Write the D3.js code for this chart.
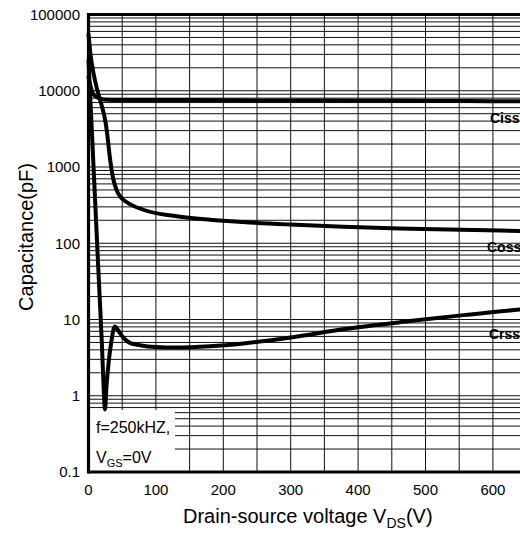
<!DOCTYPE html>
<html><head><meta charset="utf-8">
<script src="https://cdn.jsdelivr.net/npm/d3@7"></script>
<style>html,body{margin:0;padding:0;background:#fff;overflow:hidden}svg{display:block;font-family:"Liberation Sans",Arial,sans-serif}</style>
</head><body>
<svg id="c" width="520" height="536"></svg>
<script>
// Data
const cissV = [0, 3, 6, 10, 16, 25, 50, 100, 200, 300, 400, 500, 600, 700];
const cissC = [15000, 11500, 9400, 8500, 8000, 7600, 7550, 7550, 7500, 7450, 7400, 7350, 7300, 7300];
const cossV = [0, 3, 8, 13, 20, 25, 28, 31, 34, 37, 42, 47, 57, 81, 131, 180, 229, 299, 378, 477, 640, 700];
const cossC = [55000, 30000, 16000, 10200, 6200, 4000, 2600, 1500, 950, 680, 490, 410, 345, 275, 226, 204, 190, 176, 164, 155, 145, 142];
const crssV = [0, 4, 8, 12, 16, 20, 22.5, 24.5, 26.5, 30, 34, 39, 44, 52, 62, 76, 100, 130, 180, 230, 300, 380, 480, 560, 640, 700];
const crssC = [25000, 4500, 800, 140, 25, 4.5, 1.26, 0.66, 1.26, 2.8, 5.2, 8.1, 7.2, 5.75, 4.9, 4.6, 4.35, 4.28, 4.45, 4.85, 5.8, 7.5, 9.6, 11.5, 13.5, 14.8];
const xTicks = [0, 100, 200, 300, 400, 500, 600];
const yTicks = [0.1, 1, 10, 100, 1000, 10000, 100000];
const yTickLabels = ["0.1", "1", "10", "100", "1000", "10000", "100000"];
const seriesNames = ["Ciss", "Coss", "Crss"];

const svg = d3.select("#c");
const x = d3.scaleLinear().domain([0, 700]).range([88.5, 88.5 + 674 * 0.7]);
const y = d3.scaleLog().domain([0.1, 100000]).range([472, 14.5]);

// grid
const g = svg.append("g");
const vGrid = d3.range(50, 701, 50);
g.selectAll("line.v").data(vGrid).enter().append("line")
  .attr("x1", d => x(d)).attr("x2", d => x(d))
  .attr("y1", y(100000)).attr("y2", y(0.1))
  .attr("stroke", "#111").attr("stroke-width", 1);
const hGrid = [];
for (let e = -1; e < 5; e++) for (let m = 1; m <= 9; m++) hGrid.push(m * Math.pow(10, e));
hGrid.push(100000);
g.selectAll("line.h").data(hGrid).enter().append("line")
  .attr("x1", x(0)).attr("x2", 600)
  .attr("y1", d => y(d)).attr("y2", d => y(d))
  .attr("stroke", "#111").attr("stroke-width", 1);

// annotation box background (covers grid)
svg.append("rect").attr("x", x(0) + 1).attr("y", 410).attr("width", 175 - x(0) - 1).attr("height", y(0.1) - 410)
  .attr("fill", "#fff");

// curves
const line = d3.line().x(d => x(d[0])).y(d => y(d[1])).curve(d3.curveMonotoneX);
const series = [d3.zip(cissV, cissC), d3.zip(cossV, cossC), d3.zip(crssV, crssC)];
svg.selectAll("path.s").data(series).enter().append("path")
  .attr("d", line).attr("fill", "none").attr("stroke", "#000").attr("stroke-width", 4)
  .attr("stroke-linejoin", "round").attr("stroke-linecap", "round");

// frame
svg.append("line").attr("x1", x(0)).attr("x2", x(0)).attr("y1", y(100000) - 1.5).attr("y2", y(0.1) + 1.5).attr("stroke", "#000").attr("stroke-width", 3.2);
svg.append("line").attr("x1", x(0)).attr("x2", 600).attr("y1", y(100000)).attr("y2", y(100000)).attr("stroke", "#000").attr("stroke-width", 3.2);
svg.append("line").attr("x1", x(0)).attr("x2", 600).attr("y1", y(0.1)).attr("y2", y(0.1)).attr("stroke", "#000").attr("stroke-width", 3.2);

// y ticks
svg.selectAll("text.yt").data(yTicks).enter().append("text")
  .attr("x", 80).attr("y", d => y(d)).attr("dy", "0.35em").attr("text-anchor", "end")
  .attr("font-size", 15).attr("fill", "#000").text((d, i) => yTickLabels[i]);
// x ticks
svg.selectAll("text.xt").data(xTicks).enter().append("text")
  .attr("x", d => x(d)).attr("y", 495).attr("text-anchor", "middle")
  .attr("font-size", 15).attr("fill", "#000").text(d => d);

// series labels
const labelPos = [[490, 123], [487, 252], [489, 339]];
svg.selectAll("text.sl").data(seriesNames).enter().append("text")
  .attr("x", (d, i) => labelPos[i][0]).attr("y", (d, i) => labelPos[i][1])
  .attr("font-size", 14).attr("font-weight", "bold").attr("fill", "#000").text(d => d);

// annotation
svg.append("text").attr("x", 96).attr("y", 433).attr("font-size", 16).text("f=250kHZ,");
const t2 = svg.append("text").attr("x", 96).attr("y", 463).attr("font-size", 16);
t2.append("tspan").text("V");
t2.append("tspan").attr("font-size", 11).attr("dy", 4).text("GS");
t2.append("tspan").attr("dy", -4).text("=0V");

// axis titles
const xt = svg.append("text").attr("x", 183).attr("y", 523).attr("font-size", 20);
xt.append("tspan").text("Drain-source voltage V");
xt.append("tspan").attr("font-size", 14).attr("dy", 5).text("DS");
xt.append("tspan").attr("dy", -5).text("(V)");
svg.append("text").attr("transform", "translate(33,237) rotate(-90)").attr("text-anchor", "middle")
  .attr("font-size", 20).text("Capacitance(pF)");
</script>
</body></html>
